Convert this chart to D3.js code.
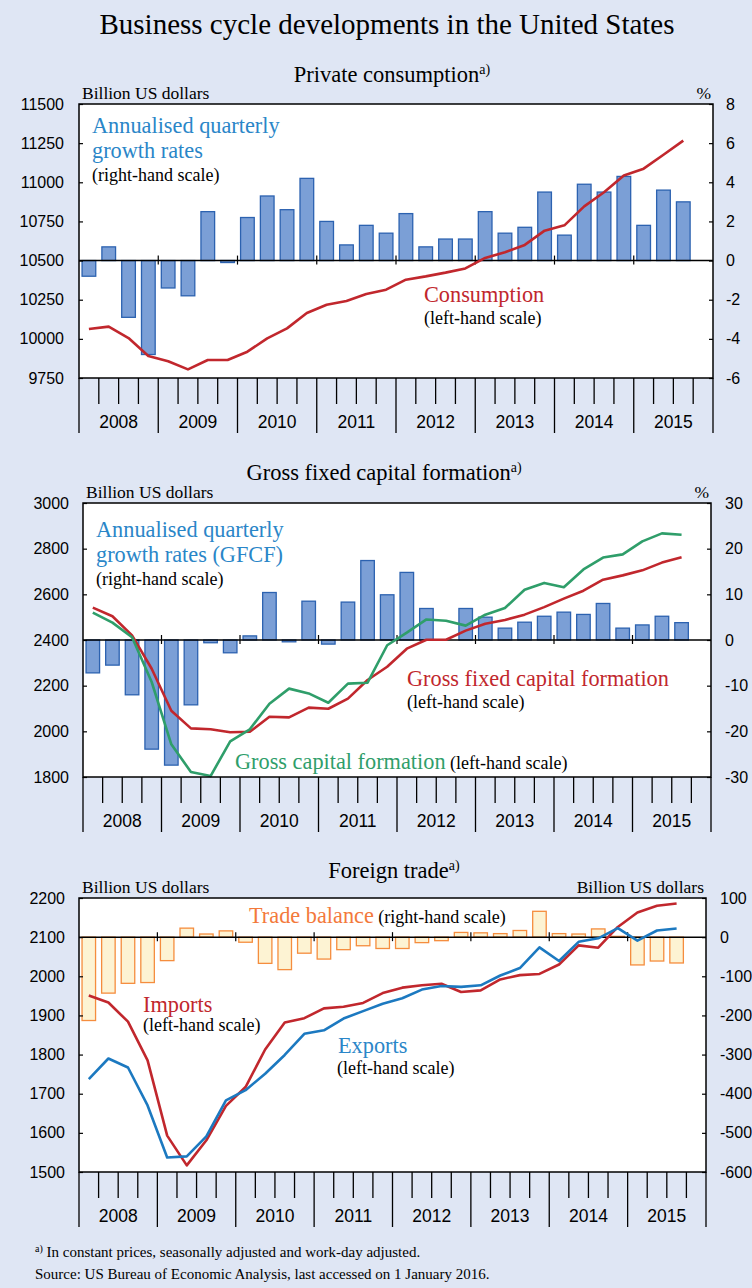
<!DOCTYPE html>
<html>
<head>
<meta charset="utf-8">
<script src="https://cdn.jsdelivr.net/npm/d3@7"></script>
<style>
  body { margin: 0; background: #dfe6f4; }
  svg { display: block; }
</style>
</head>
<body>
<script>

// --- data, 2008Q1 .. 2015Q3 ---
var years = [2008, 2009, 2010, 2011, 2012, 2013, 2014, 2015]
var quarterNames = ['Q1', 'Q2', 'Q3', 'Q4']
var quarters = []
years.forEach(function(y){ quarterNames.forEach(function(q){ quarters.push(y + q) }) })

// private consumption
var consumptionGrowth = [-0.8, 0.7, -2.9, -4.8, -1.4, -1.8, 2.5, -0.1, 2.2, 3.3, 2.6, 4.2, 2.0, 0.8, 1.8, 1.4,
  2.4, 0.7, 1.1, 1.1, 2.5, 1.4, 1.7, 3.5, 1.3, 3.9, 3.5, 4.3, 1.8, 3.6, 3.0]
var consumption = [10063, 10078, 10005, 9890, 9857, 9805, 9865, 9865, 9918, 10003, 10067, 10165, 10218, 10242, 10286, 10314,
  10378, 10399, 10423, 10450, 10517, 10553, 10600, 10691, 10725, 10846, 10936, 11044, 11087, 11176, 11266]

// gross fixed capital formation
var gfcfGrowth = [-7.2, -5.5, -12.0, -23.9, -27.4, -14.2, -0.6, -2.8, 0.9, 10.4, -0.4, 8.5, -0.9, 8.3, 17.4, 9.9,
  14.8, 6.9, 0, 6.9, 5.0, 2.6, 3.9, 5.2, 6.1, 5.6, 8.0, 2.6, 3.3, 5.2, 3.8]
var gfcf = [2542, 2504, 2420, 2274, 2090, 2013, 2009, 1996, 1998, 2064, 2061, 2104, 2099, 2143, 2225, 2283,
  2362, 2401, 2401, 2441, 2471, 2488, 2511, 2544, 2581, 2616, 2664, 2683, 2705, 2739, 2762]
var gcf = [2520, 2476, 2412, 2216, 1943, 1822, 1804, 1956, 2009, 2121, 2187, 2166, 2125, 2209, 2213, 2377,
  2432, 2490, 2484, 2463, 2511, 2540, 2620, 2650, 2631, 2709, 2761, 2775, 2832, 2867, 2861]

// foreign trade
var tradeBalance = [-213, -143, -118, -116, -60, 23, 8, 16, -13, -67, -83, -41, -56, -32, -22, -29,
  -29, -14, -9, 12, 11, 9, 17, 66, 9, 8, 21, 2, -71, -61, -66]
var imports = [1951, 1933, 1884, 1785, 1593, 1517, 1581, 1669, 1717, 1813, 1882, 1893, 1918, 1922, 1932, 1957,
  1971, 1977, 1981, 1960, 1964, 1992, 2003, 2006, 2030, 2079, 2073, 2126, 2163, 2180, 2186]
var exports = [1737, 1790, 1767, 1670, 1537, 1540, 1591, 1683, 1709, 1751, 1799, 1853, 1862, 1892, 1911, 1930,
  1944, 1966, 1975, 1973, 1977, 2002, 2021, 2074, 2039, 2088, 2097, 2123, 2091, 2117, 2122]

// tick values
var consLeftTicks = [9750, 10000, 10250, 10500, 10750, 11000, 11250, 11500]
var consRightTicks = [-6, -4, -2, 0, 2, 4, 6, 8]
var gfcfLeftTicks = [1800, 2000, 2200, 2400, 2600, 2800, 3000]
var gfcfRightTicks = [-30, -20, -10, 0, 10, 20, 30]
var tradeLeftTicks = [1500, 1600, 1700, 1800, 1900, 2000, 2100, 2200]
var tradeRightTicks = [-600, -500, -400, -300, -200, -100, 0, 100]

var C = {
  bg: '#dfe6f4', barFill: '#7b9fd6', barStroke: '#2c62b0',
  red: '#c1272d', green: '#2f9e6a', blue: '#1c79c0', blueText: '#2a86c8',
  orange: '#f58d3e', orangeFill: '#fdf3d3', orangeText: '#f3793b'
}
var SERIF = '"Liberation Serif", "Times New Roman", serif'
var SANS = '"Liberation Sans", Arial, sans-serif'

var svg = d3.select('body').append('svg').attr('width', 752).attr('height', 1288)
svg.append('rect').attr('width', 752).attr('height', 1288).attr('fill', C.bg)

svg.append('text').attr('x', 387).attr('y', 34).attr('text-anchor', 'middle')
  .style('font-family', SERIF).style('font-size', '29px').text('Business cycle developments in the United States')

function panel(o){
  var g = svg.append('g')
    , x0 = o.x0, x1 = o.x1, y0 = o.y0, y1 = o.y1
  var x = d3.scaleBand().domain(quarters).range([x0, x1]).paddingInner(0.31).paddingOuter(0.155)
    , step = (x1 - x0) / quarters.length
    , xc = function(i){ return x(quarters[i]) + x.bandwidth() / 2 }
    , xYear = d3.scaleBand().domain(years).range([x0, x1])
    , yL = d3.scaleLinear().domain(o.leftDomain).range([y1, y0])
    , yR = d3.scaleLinear().domain(o.rightDomain).range([y1, y0])

  // title
  var t = g.append('text').attr('x', o.titleX).attr('y', o.titleY).attr('text-anchor', 'middle')
    .style('font-family', SERIF).style('font-size', '22.5px')
  t.append('tspan').text(o.title)
  t.append('tspan').attr('dy', -8).style('font-size', '14px').text('a)')

  g.append('text').attr('x', x0 + 3).attr('y', y0 - 5)
    .style('font-family', SERIF).style('font-size', '17.5px').text('Billion US dollars')
  g.append('text').attr('x', x1 - 2).attr('y', y0 - 5).attr('text-anchor', 'end')
    .style('font-family', SERIF).style('font-size', '17.5px').text(o.rightUnit)

  g.append('rect').attr('x', x0).attr('y', y0).attr('width', x1 - x0).attr('height', y1 - y0).attr('fill', '#fff')

  // bars (right-hand scale)
  g.selectAll('.bar').data(o.bars).enter().append('rect').attr('class', 'bar')
    .attr('x', function(d, i){ return x(quarters[i]) })
    .attr('width', x.bandwidth())
    .attr('y', function(d){ return yR(Math.max(0, d)) })
    .attr('height', function(d){ return Math.abs(yR(d) - yR(0)) })
    .attr('fill', o.barFill).attr('stroke', o.barStroke).attr('stroke-width', 1.3)

  // zero line with year marks
  g.append('line').attr('x1', x0).attr('x2', x1).attr('y1', yR(0)).attr('y2', yR(0))
    .attr('stroke', '#000').attr('stroke-width', 1.5)
  g.selectAll('.ymark').data(years.slice(1)).enter().append('line')
    .attr('x1', function(d){ return xYear(d) }).attr('x2', function(d){ return xYear(d) })
    .attr('y1', yR(0) - 5).attr('y2', yR(0) + 4).attr('stroke', '#000').attr('stroke-width', 1.2)

  // lines (left-hand scale)
  o.lines.forEach(function(l){
    g.append('path').datum(l.values)
      .attr('d', d3.line().x(function(d, i){ return xc(i) }).y(function(d){ return yL(d) }))
      .attr('fill', 'none').attr('stroke', l.color).attr('stroke-width', 2.6).attr('stroke-linejoin', 'round')
  })

  g.append('rect').attr('x', x0).attr('y', y0).attr('width', x1 - x0).attr('height', y1 - y0)
    .attr('fill', 'none').attr('stroke', '#000').attr('stroke-width', 1.5)

  // axes
  var la = g.append('g').attr('transform', 'translate(' + x0 + ',0)')
    .call(d3.axisLeft(yL).tickValues(o.leftTicks).tickSize(-4).tickPadding(o.padL).tickFormat(String))
  var ra = g.append('g').attr('transform', 'translate(' + x1 + ',0)')
    .call(d3.axisRight(yR).tickValues(o.rightTicks).tickSize(-4).tickPadding(o.padR).tickFormat(String))
  ;[la, ra].forEach(function(a){
    a.select('.domain').remove()
    a.selectAll('line').attr('stroke', '#000').attr('stroke-width', 1.2)
    a.selectAll('text').style('font-family', SANS).style('font-size', '16px').attr('fill', '#000')
  })

  // quarter / year ticks under the plot
  g.selectAll('.qt').data(d3.range(quarters.length + 1)).enter().append('line')
    .attr('x1', function(i){ return x0 + i * step }).attr('x2', function(i){ return x0 + i * step })
    .attr('y1', y1).attr('y2', function(i){ return y1 + (i % 4 === 0 ? 55 : 26) })
    .attr('stroke', '#000').attr('stroke-width', 1.3)
  g.selectAll('.yl').data(years).enter().append('text')
    .attr('x', function(d){ return xYear(d) + xYear.bandwidth() / 2 }).attr('y', y1 + 50)
    .attr('text-anchor', 'middle').style('font-family', SANS).style('font-size', '17.5px').text(String)

  // annotations
  o.notes.forEach(function(n){
    var tt = g.append('text').attr('x', n.x).attr('y', n.y).style('font-family', SERIF)
    n.parts.forEach(function(p){
      tt.append('tspan').attr('fill', p.color || '#000').style('font-size', p.size + 'px').text(p.text)
    })
  })
}

panel({
  title: 'Private consumption', titleX: 392, titleY: 82, rightUnit: '%',
  x0: 79, x1: 713, y0: 104, y1: 378, padL: 15, padR: 13,
  leftDomain: [9750, 11500], rightDomain: [-6, 8],
  leftTicks: consLeftTicks, rightTicks: consRightTicks,
  bars: consumptionGrowth, barFill: C.barFill, barStroke: C.barStroke,
  lines: [{values: consumption, color: C.red}],
  notes: [
    {x: 92, y: 133, parts: [{text: 'Annualised quarterly', color: C.blueText, size: 22.3}]},
    {x: 92, y: 158, parts: [{text: 'growth rates', color: C.blueText, size: 22.3}]},
    {x: 92, y: 181, parts: [{text: '(right-hand scale)', size: 18}]},
    {x: 424, y: 302, parts: [{text: 'Consumption', color: C.red, size: 22.3}]},
    {x: 424, y: 324, parts: [{text: '(left-hand scale)', size: 18}]}
  ]
})

panel({
  title: 'Gross fixed capital formation', titleX: 384, titleY: 480, rightUnit: '%',
  x0: 83, x1: 711, y0: 503, y1: 777, padL: 14, padR: 14,
  leftDomain: [1800, 3000], rightDomain: [-30, 30],
  leftTicks: gfcfLeftTicks, rightTicks: gfcfRightTicks,
  bars: gfcfGrowth, barFill: C.barFill, barStroke: C.barStroke,
  lines: [{values: gfcf, color: C.red}, {values: gcf, color: C.green}],
  notes: [
    {x: 96, y: 537, parts: [{text: 'Annualised quarterly', color: C.blueText, size: 22.3}]},
    {x: 96, y: 562, parts: [{text: 'growth rates (GFCF)', color: C.blueText, size: 22.3}]},
    {x: 96, y: 585, parts: [{text: '(right-hand scale)', size: 18}]},
    {x: 407, y: 686, parts: [{text: 'Gross fixed capital formation', color: C.red, size: 22.3}]},
    {x: 407, y: 708, parts: [{text: '(left-hand scale)', size: 18}]},
    {x: 235, y: 769, parts: [{text: 'Gross capital formation', color: C.green, size: 22.3}, {text: ' (left-hand scale)', size: 18}]}
  ]
})

panel({
  title: 'Foreign trade', titleX: 394, titleY: 878, rightUnit: 'Billion US dollars',
  x0: 79, x1: 706, y0: 898, y1: 1172, padL: 14, padR: 14,
  leftDomain: [1500, 2200], rightDomain: [-600, 100],
  leftTicks: tradeLeftTicks, rightTicks: tradeRightTicks,
  bars: tradeBalance, barFill: C.orangeFill, barStroke: C.orange,
  lines: [{values: imports, color: C.red}, {values: exports, color: C.blue}],
  notes: [
    {x: 249, y: 923, parts: [{text: 'Trade balance', color: C.orangeText, size: 22.3}, {text: ' (right-hand scale)', size: 18}]},
    {x: 143, y: 1012, parts: [{text: 'Imports', color: C.red, size: 22.3}]},
    {x: 143, y: 1031, parts: [{text: '(left-hand scale)', size: 18}]},
    {x: 338, y: 1053, parts: [{text: 'Exports', color: C.blueText, size: 22.3}]},
    {x: 337, y: 1074, parts: [{text: '(left-hand scale)', size: 18}]}
  ]
})

var foot = svg.append('g').style('font-family', SERIF).style('font-size', '15px')
var f1 = foot.append('text').attr('x', 35).attr('y', 1257)
f1.append('tspan').attr('dy', -5).style('font-size', '10px').text('a)')
f1.append('tspan').attr('dy', 5).text(' In constant prices, seasonally adjusted and work-day adjusted.')
foot.append('text').attr('x', 35).attr('y', 1279).text('Source: US Bureau of Economic Analysis, last accessed on 1 January 2016.')

</script>
</body>
</html>
